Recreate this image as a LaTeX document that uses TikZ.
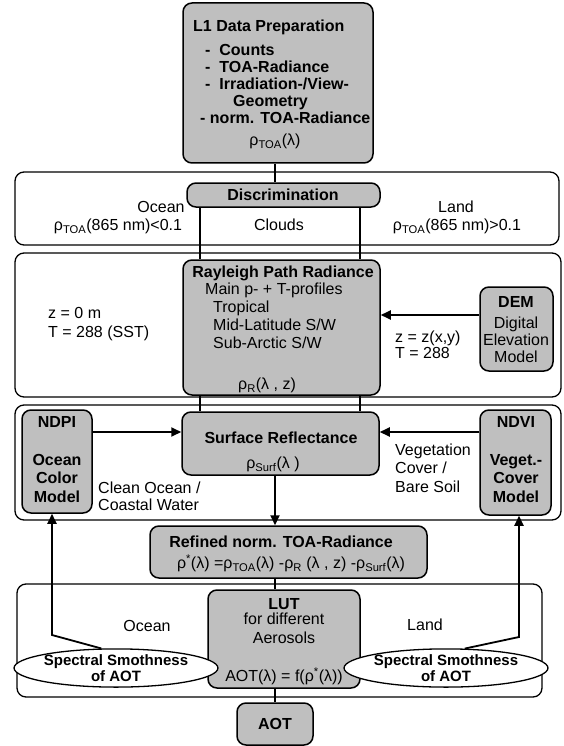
\documentclass[tikz,border=0pt]{standalone}
\usepackage{fontspec}
\setmainfont{Liberation Sans}
\usetikzlibrary{arrows.meta,shapes.geometric,fit}
\begin{document}
\begin{tikzpicture}[x=1pt,y=-1pt,
  panel/.style={draw, line width=1.3pt, rounded corners=9pt, inner sep=0pt},
  gbox/.style={draw, line width=1.5pt, rounded corners=9pt, fill=black!25, inner sep=0pt},
  txt/.style={inner sep=0pt, text height=11.5pt, text depth=0pt, font=\fontsize{16}{17.5}\selectfont},
  btxt/.style={txt, font=\fontsize{16}{17.5}\selectfont\bfseries},
  conn/.style={line width=1.3pt},
  arr/.style={line width=1.8pt, -{Triangle[length=10pt,width=9pt]}},
  ell/.style={draw, ellipse, line width=1.3pt, inner sep=0pt, fill=white, minimum height=38pt, align=center, font=\fontsize{15}{16}\selectfont\bfseries}]
\useasboundingbox (0,0) rectangle (564,746);
% panels
\node[panel, fit={(15,172) (559,245)}] (p1) {};
\node[panel, fit={(15,253) (561,397)}] (p2) {};
\node[panel, fit={(15,405) (561,520)}] (p3) {};
\node[panel, fit={(17,584) (542,697)}] (p4) {};
% grey boxes
\node[gbox, fit={(183,3) (373,163)}] (l1) {};
\node[gbox, fit={(187,183) (380,207)}] (disc) {};
\node[gbox, fit={(183,260) (380,395)}] (ray) {};
\node[gbox, fit={(480,287) (553,371)}] (dem) {};
\node[gbox, fit={(182,412) (379,475)}] (surf) {};
\node[gbox, fit={(22,410) (92,513)}] (ndpi) {};
\node[gbox, fit={(480,410) (551,515)}] (ndvi) {};
\node[gbox, fit={(150,526) (427,578)}] (ref) {};
\node[gbox, fit={(208,590) (360,688)}] (lut) {};
\node[gbox, fit={(237,703) (313,745)}] (aot) {};
% ellipses
\node[ell, minimum width=178pt] (ssl) at (116,668) {Spectral Smothness\\of AOT};
\node[ell, minimum width=168pt] (ssr) at (446,668) {Spectral Smothness\\of AOT};
% L1 texts
\node[btxt, anchor=west] (l1a) at (193,26) {L1 Data Preparation};
\node[btxt, anchor=west] (l1b) at (205,50) {-\ \ Counts};
\node[btxt, anchor=west] (l1c) at (205,67) {-\ \ TOA-Radiance};
\node[btxt, anchor=west] (l1d) at (205,84) {-\ \ Irradiation-/View-};
\node[btxt, anchor=west] (l1e) at (233,101) {Geometry};
\node[btxt, anchor=west] (l1f) at (200,118) {-\ norm. TOA-Radiance};
\node[txt] (l1g) at (275,140) {ρ\textsubscript{TOA}(λ)};
% discrimination
\node[btxt] (disct) at (283,195) {Discrimination};
\node[txt] (ocn) at (161,207) {Ocean};
\node[txt] (ocn2) at (118,225) {ρ\textsubscript{TOA}(865 nm)<0.1};
\node[txt] (cld) at (279,225) {Clouds};
\node[txt] (lnd) at (456,207) {Land};
\node[txt] (lnd2) at (457,225) {ρ\textsubscript{TOA}(865 nm)>0.1};
% rayleigh
\node[btxt] (raya) at (283,272) {Rayleigh Path Radiance};
\node[txt, anchor=west] (rayb) at (205,289) {Main p- + T-profiles};
\node[txt, anchor=west] (rayc) at (213,307) {Tropical};
\node[txt, anchor=west] (rayd) at (213,325) {Mid-Latitude S/W};
\node[txt, anchor=west] (raye) at (213,343) {Sub-Arctic S/W};
\node[txt] (rayf) at (267,384) {ρ\textsubscript{R}(λ , z)};
\node[txt, anchor=west] (z0) at (48,313) {z = 0 m};
\node[txt, anchor=west] (t0) at (48,332) {T = 288 (SST)};
\node[txt, anchor=west] (zz) at (395,337) {z = z(x,y)};
\node[txt, anchor=west] (tz) at (395,353) {T = 288};
\node[btxt] (dema) at (516,302) {DEM};
\node[txt] (demb) at (516,323) {Digital};
\node[txt] (demc) at (516,340) {Elevation};
\node[txt] (demd) at (516,357) {Model};
% surface
\node[btxt] (surfa) at (281,438) {Surface Reflectance};
\node[txt] (surfb) at (273,463) {ρ\textsubscript{Surf}(λ )};
\node[btxt] (ndpia) at (57,422) {NDPI};
\node[btxt] (ndpib) at (57,460) {Ocean};
\node[btxt] (ndpic) at (57,478) {Color};
\node[btxt] (ndpid) at (57,497) {Model};
\node[btxt] (ndvia) at (516,422) {NDVI};
\node[btxt] (ndvib) at (516,460) {Veget.-};
\node[btxt] (ndvic) at (516,478) {Cover};
\node[btxt] (ndvid) at (516,497) {Model};
\node[txt, anchor=west] (co1) at (98,488) {Clean Ocean /};
\node[txt, anchor=west] (co2) at (98,505) {Coastal Water};
\node[txt, anchor=west] (ve1) at (395,450) {Vegetation};
\node[txt, anchor=west] (ve2) at (395,468) {Cover /};
\node[txt, anchor=west] (ve3) at (395,487) {Bare Soil};
% refined
\node[btxt] (refa) at (281,542) {Refined norm. TOA-Radiance};
\node[txt] (refb) at (291,563) {ρ\textsuperscript{*}(λ) =ρ\textsubscript{TOA}(λ) -ρ\textsubscript{R} (λ , z) -ρ\textsubscript{Surf}(λ)};
% LUT
\node[btxt] (luta) at (284,604) {LUT};
\node[txt] (lutb) at (284,619) {for different};
\node[txt] (lutc) at (284,638) {Aerosols};
\node[txt] (lutd) at (284,676) {AOT(λ) = f(ρ\textsuperscript{*}(λ))};
\node[txt] (ocn4) at (147,626) {Ocean};
\node[txt] (lnd4) at (425,625) {Land};
\node[btxt] (aott) at (275,724) {AOT};
% connectors
\coordinate (cx) at (275,0);
\coordinate (la) at (200,0);
\coordinate (lb) at (360,0);
\draw[conn] (l1.south -| cx) -- (disc.north -| cx);
\draw[conn] (disc.south -| la) -- (ray.north -| la);
\draw[conn] (disc.south -| lb) -- (ray.north -| lb);
\draw[conn] (ray.south -| la) -- (surf.north -| la);
\draw[conn] (ray.south -| lb) -- (surf.north -| lb);
\coordinate (ydem) at (0,315);
\draw[arr] (dem.west |- ydem) -- (ray.east |- ydem);
\coordinate (ysurf) at (0,432);
\draw[arr] (ndpi.east |- ysurf) -- (surf.west |- ysurf);
\draw[arr] (ndvi.west |- ysurf) -- (surf.east |- ysurf);
\draw[arr] (surf.south -| cx) -- (ref.north -| cx);
\draw[conn] (ref.south -| cx) -- (lut.north -| cx);
\draw[conn] (lut.south -| cx) -- (aot.north -| cx);
\coordinate (lk) at (52,635);
\coordinate (rk) at (519,637);
\draw[arr] (ssl.127) -- (lk) -- (lk |- ndpi.south);
\draw[arr] (ssr.46) -- (rk) -- (rk |- ndvi.south);
\end{tikzpicture}
\end{document}
